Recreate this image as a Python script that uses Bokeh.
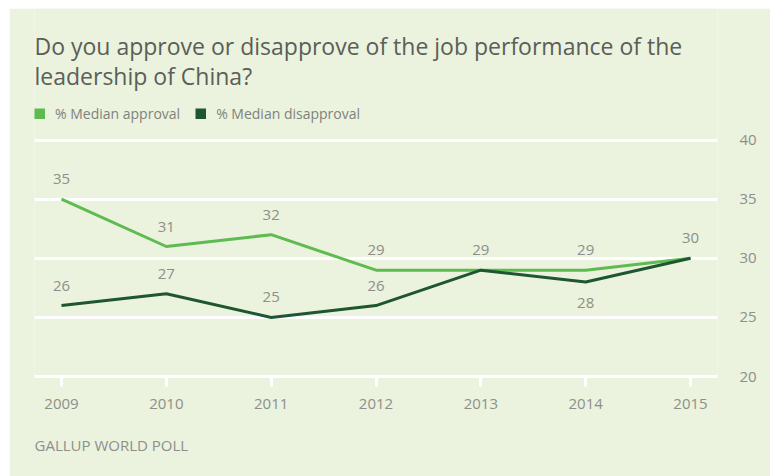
from bokeh.plotting import figure
from bokeh.models import Range1d, Label, Legend, LegendItem, FixedTicker, ColumnDataSource, Title
from bokeh.core.properties import value
from bokeh.embed import file_html
from bokeh.resources import INLINE

years = [2009, 2010, 2011, 2012, 2013, 2014, 2015]
approval = [35, 31, 32, 29, 29, 29, 30]
disapproval = [26, 27, 25, 26, 29, 28, 30]
y_ticks = [20, 25, 30, 35, 40]
title_lines = ["Do you approve or disapprove of the job performance of the",
               "leadership of China?"]
source_text = "GALLUP WORLD POLL"

BG = "#EBF2DE"
LIGHT = "#5DBB4F"
DARK = "#1E5631"
GRAY = "#8C908A"
FONT = "Open Sans"

# frame spans page x 34..717 and y top..377 (y=20 on the bottom edge)
p = figure(width=761, height=468, margin=(8, 0, 0, 9),
           output_backend="svg", toolbar_location=None,
           x_range=Range1d(2008.7424, 2015.2576), y_range=Range1d(20, 51.14),
           min_border_left=25, min_border_right=53, min_border_top=0, min_border_bottom=99,
           background_fill_color=BG, border_fill_color=BG, outline_line_color=None,
           y_axis_location="right", title=None)

# grid
p.xgrid.grid_line_color = None
p.ygrid.ticker = FixedTicker(ticks=y_ticks)
p.ygrid.grid_line_color = "white"
p.ygrid.grid_line_width = 3

# x axis
xa = p.xaxis[0]
xa.ticker = FixedTicker(ticks=years)
xa.axis_line_color = "white"
xa.axis_line_width = 3
xa.major_tick_line_color = "white"
xa.major_tick_line_width = 3
xa.major_tick_in = 0
xa.major_tick_out = 10
xa.minor_tick_line_color = None
xa.major_label_standoff = 12
xa.major_label_text_font = FONT
xa.major_label_text_font_size = "15px"
xa.major_label_text_color = GRAY

# y axis (right)
ya = p.yaxis[0]
ya.ticker = FixedTicker(ticks=y_ticks)
ya.axis_line_color = None
ya.major_tick_line_color = None
ya.minor_tick_line_color = None
ya.major_label_standoff = 16
ya.major_label_text_font = FONT
ya.major_label_text_font_size = "15px"
ya.major_label_text_color = GRAY

r_app = p.line(years, approval, line_color=LIGHT, line_width=3)
r_dis = p.line(years, disapproval, line_color=DARK, line_width=3)

# data labels
app_src = ColumnDataSource(dict(x=years, y=approval, t=[str(v) for v in approval]))
p.text("x", "y", text="t", source=app_src, text_align="center", text_baseline="middle",
       y_offset=-20, text_font=value(FONT), text_font_size="15px", text_color=GRAY)

dx_up, dy_up, dt_up, dx_dn, dy_dn, dt_dn = [], [], [], [], [], []
for x, a, d in zip(years, approval, disapproval):
    if a == d:
        continue
    if a - d < 2:
        dx_dn.append(x); dy_dn.append(d); dt_dn.append(str(d))
    else:
        dx_up.append(x); dy_up.append(d); dt_up.append(str(d))
p.text(dx_up, dy_up, text=dt_up, text_align="center", text_baseline="middle",
       y_offset=-20, text_font=value(FONT), text_font_size="15px", text_color=GRAY)
p.text(dx_dn, dy_dn, text=dt_dn, text_align="center", text_baseline="middle",
       y_offset=21, text_font=value(FONT), text_font_size="15px", text_color=GRAY)

# legend swatches: thick butt-capped lines give 11x11 squares in the legend
sq_app = p.line([None], [None], line_color=LIGHT, line_width=11, line_cap="butt")
sq_dis = p.line([None], [None], line_color=DARK, line_width=11, line_cap="butt")
legend = Legend(items=[LegendItem(label="% Median approval", renderers=[sq_app]),
                       LegendItem(label="% Median disapproval", renderers=[sq_dis])],
                orientation="horizontal", location=(0, 253),
                background_fill_alpha=0, border_line_color=None,
                padding=0, margin=0, spacing=15, label_standoff=10,
                glyph_width=11, glyph_height=11, label_height=11,
                label_text_font=FONT, label_text_font_size="14px", label_text_color="#7E837C")
p.add_layout(legend, "center")

# title
p.add_layout(Label(x=0, y=331, x_units="screen", y_units="screen", text=title_lines[0],
                   text_font=FONT, text_font_size="23px", text_color="#5A5F58",
                   text_baseline="middle"))
p.add_layout(Label(x=0, y=301, x_units="screen", y_units="screen", text=title_lines[1],
                   text_font=FONT, text_font_size="23px", text_color="#5A5F58",
                   text_baseline="middle"))

# source
src = Title(text=source_text, align="left", text_font=FONT, text_font_size="15px",
            text_color=GRAY, text_font_style="normal", standoff=43, offset=0)
p.add_layout(src, "below")

open("out.html", "w").write(file_html(p, INLINE))
